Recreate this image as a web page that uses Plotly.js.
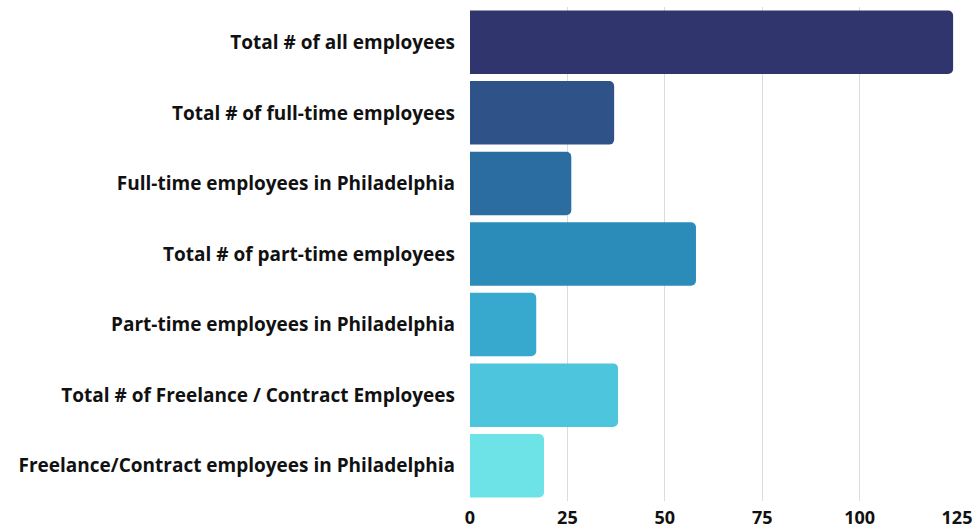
<!DOCTYPE html>
<html>
<head>
<meta charset="utf-8">
<script src="https://cdn.plot.ly/plotly-3.0.1.min.js"></script>
<style>html,body{margin:0;padding:0;background:#fff;}#chart{width:979px;height:531px;}</style>
</head>
<body>
<div id="chart"></div>
<script>
const categories = [
  "Total # of all employees",
  "Total # of full-time employees",
  "Full-time employees in Philadelphia",
  "Total # of part-time employees",
  "Part-time employees in Philadelphia",
  "Total # of Freelance / Contract Employees",
  "Freelance/Contract employees in Philadelphia"
];
const values = [124, 37, 26, 58, 17, 38, 19];
const barColors = ["#31356E", "#2F5289", "#2B6CA1", "#2B8CBA", "#37A9CF", "#4CC5DD", "#6DE3E8"];
const xTicks = [0, 25, 50, 75, 100, 125];

const trace = {
  type: "bar",
  orientation: "h",
  y: categories,
  x: values,
  marker: { color: barColors, cornerradius: 5, line: { width: 0 } },
  hoverinfo: "x+y"
};

const layout = {
  width: 979,
  height: 531,
  margin: { l: 470, r: 22, t: 7, b: 30 },
  paper_bgcolor: "#ffffff",
  plot_bgcolor: "#ffffff",
  bargap: 0.1,
  showlegend: false,
  font: { family: "Open Sans, sans-serif", color: "#111111" },
  xaxis: {
    range: [0, 125],
    tickvals: xTicks,
    ticktext: xTicks.map(String),
    showgrid: true,
    gridcolor: "#dcdcdc",
    gridwidth: 1,
    zeroline: false,
    showline: false,
    ticks: "",
    ticklabelstandoff: 4,
    tickfont: { family: "Open Sans", size: 18, color: "#111111", weight: "bold" }
  },
  yaxis: {
    autorange: "reversed",
    showgrid: false,
    zeroline: false,
    showline: false,
    ticks: "",
    ticklabelstandoff: 14,
    tickfont: { family: "Open Sans", size: 19, color: "#111111", weight: "bold" }
  }
};

Plotly.newPlot("chart", [trace], layout, { displayModeBar: false, staticPlot: true });
</script>
</body>
</html>
